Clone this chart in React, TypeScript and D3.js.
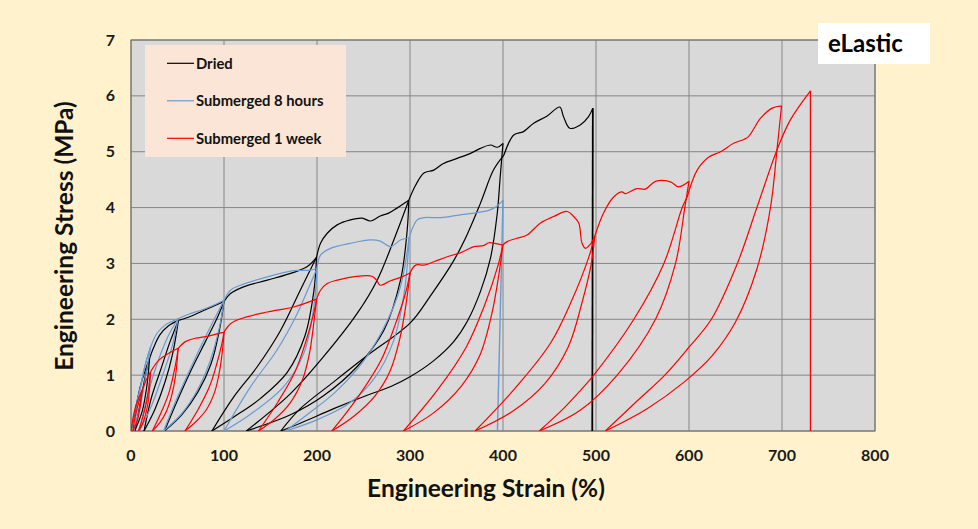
import React from 'react';
import * as d3 from 'd3';

type P = [number, number];
interface Loop { lower: P[]; upper: P[] }

const xTicks = [0, 100, 200, 300, 400, 500, 600, 700, 800];
const yTicks = [0, 1, 2, 3, 4, 5, 6, 7];
const seriesNames = ['Dried', 'Submerged 8 hours', 'Submerged 1 week'];
const seriesColors = ['#000000', '#6A9AD0', '#FF0000'];

// ---------- Dried ----------
const driedEnvelope: P[][] = [
  [[0, 0], [5, 0.4], [10, 0.8], [15.6, 1.1], [20, 1.3]],
  [[20, 1.3], [24, 1.48], [31, 1.72], [40, 1.88], [51, 1.98]],
  [[51, 1.98], [65, 2.06], [80, 2.17], [100, 2.32]],
  [[100, 2.32], [107, 2.46], [121, 2.58], [146.5, 2.7], [175, 2.84], [190, 2.95], [199.5, 3.11]],
  [[199.5, 3.11], [203.8, 3.36], [211, 3.54], [221.7, 3.69], [236, 3.78], [248.6, 3.81], [257.5, 3.76], [268, 3.85], [277, 3.9], [286, 3.99], [298.7, 4.13]],
  [[298.7, 4.13], [306, 4.4], [315, 4.62], [325.6, 4.67], [336, 4.79], [350.7, 4.88], [365, 4.97], [375.8, 5.06], [386.6, 5.12], [393.7, 5.08], [400, 5.15]],
  [[401, 4.94], [411.6, 5.3], [422, 5.36], [433, 5.51], [447.5, 5.64], [461, 5.8], [465, 5.63], [471.8, 5.42], [483, 5.48], [492, 5.63], [496.6, 5.78]],
];
const driedLoops: Loop[] = [
  { lower: [[4, 0], [12, 0.35], [17, 0.8], [20, 1.3]], upper: [[4, 0], [10, 0.5], [15, 0.95], [20, 1.3]] },
  { lower: [[14, 0], [26, 0.4], [37, 0.9], [45, 1.4], [51, 1.98]], upper: [[14, 0], [22, 0.6], [32, 1.1], [42, 1.6], [51, 1.98]] },
  { lower: [[36, 0], [55, 0.3], [72, 0.7], [86, 1.2], [95, 1.8], [100, 2.32]], upper: [[36, 0], [50, 0.55], [65, 1.1], [80, 1.6], [92, 2.0], [100, 2.32]] },
  { lower: [[87, 0], [110.5, 0.25], [139, 0.58], [168, 1.05], [187, 1.7], [196.6, 2.5], [199.5, 3.11]], upper: [[87, 0], [110.5, 0.61], [135.7, 1.15], [160.8, 1.8], [182, 2.52], [199.5, 3.11]] },
  { lower: [[124, 0], [171.5, 0.29], [207, 0.63], [243, 1.15], [271.8, 1.8], [289.8, 2.7], [297, 3.6], [298.7, 4.13]], upper: [[124, 0], [171.5, 0.67], [207, 1.33], [243, 2.1], [264.7, 2.7], [282.6, 3.42], [298.7, 4.13]] },
  { lower: [[161, 0], [182, 0.14], [218, 0.4], [254, 0.64], [280, 0.8], [300, 0.97], [325.6, 1.26], [347, 1.6], [361.5, 1.96], [375.8, 2.5], [386.6, 3.1], [393.7, 3.88], [397, 4.55], [400, 5.15]], upper: [[161, 0], [182, 0.4], [218, 0.88], [254, 1.35], [300, 1.93], [322, 2.42], [347, 3.05], [361.5, 3.52], [375.8, 4.08], [390, 4.68], [401, 4.94]] },
];
const driedBreak: P[] = [[496.6, 5.78], [496, 0]];

// ---------- Submerged 8 hours ----------
const hoursEnvelope: P[][] = [
  [[0, 0], [5, 0.42], [10, 0.78], [15.6, 1.2], [21, 1.5]],
  [[21, 1.5], [28, 1.75], [37, 1.9], [50.7, 2.01]],
  [[50.7, 2.01], [62, 2.09], [76.5, 2.17], [90, 2.26], [100, 2.34]],
  [[100, 2.34], [107, 2.52], [117.7, 2.61], [146.5, 2.76], [175, 2.87], [193, 2.88], [200, 2.91]],
  [[200, 2.91], [203.8, 3.15], [214.5, 3.27], [236, 3.36], [257.5, 3.42], [268, 3.4], [279, 3.3], [289.8, 3.42], [299, 3.46]],
  [[299, 3.46], [307.7, 3.78], [315, 3.82], [333, 3.82], [354, 3.87], [375.8, 3.92], [384.6, 3.95], [392, 4.01], [400, 4.13]],
];
const hoursLoops: Loop[] = [
  { lower: [[3, 0], [10, 0.45], [16, 1.0], [21, 1.5]], upper: [[3, 0], [8, 0.55], [14, 1.1], [21, 1.5]] },
  { lower: [[9, 0], [22, 0.45], [34, 1.0], [44, 1.5], [50.7, 2.01]], upper: [[9, 0], [18, 0.65], [28, 1.2], [40, 1.7], [50.7, 2.01]] },
  { lower: [[35, 0], [54, 0.3], [71, 0.72], [85, 1.25], [95, 1.85], [100, 2.34]], upper: [[35, 0], [49, 0.57], [64, 1.12], [79, 1.65], [91, 2.05], [100, 2.34]] },
  { lower: [[100, 0], [128.5, 0.3], [164, 0.79], [185.8, 1.39], [196.6, 2.22], [200, 2.91]], upper: [[100, 0], [128.5, 0.79], [157, 1.45], [178.7, 2.1], [193, 2.64], [200, 2.91]] },
  { lower: [[166, 0], [200, 0.2], [235, 0.5], [262, 0.95], [282, 1.6], [294, 2.5], [299, 3.46]], upper: [[166, 0], [190, 0.3], [220, 0.7], [250, 1.25], [275, 1.95], [290, 2.6], [299, 3.46]] },
];
const hoursBreak: P[] = [[400, 4.13], [394, 0]];

// ---------- Submerged 1 week ----------
const weekEnvelope: P[][] = [
  [[0, 0], [4.8, 0.43], [12, 0.73]],
  [[12, 0.73], [16, 0.9], [21, 1.06]],
  [[21, 1.06], [30, 1.27], [40.6, 1.39], [50.7, 1.48]],
  [[50.7, 1.48], [58.6, 1.6], [69, 1.66], [83.5, 1.7], [100, 1.77]],
  [[100, 1.77], [107, 1.92], [117.7, 2.01], [146.5, 2.13], [175, 2.22], [199.5, 2.36]],
  [[199.5, 2.36], [203.8, 2.52], [211, 2.64], [221.7, 2.7], [238.7, 2.76], [259, 2.77], [264, 2.7], [268, 2.61], [279, 2.69], [289.8, 2.75], [300, 2.83]],
  [[300, 2.83], [306, 2.97], [315, 2.97], [325.6, 3.03], [340, 3.12], [354, 3.19], [368.6, 3.3], [379, 3.32], [384.7, 3.37], [393.7, 3.35], [399.8, 3.33]],
  [[399.8, 3.33], [404.5, 3.39], [415, 3.45], [426, 3.51], [440, 3.72], [454.6, 3.84], [469, 3.93], [476, 3.84], [481.5, 3.72], [485, 3.36], [488.7, 3.27], [493.8, 3.34], [498.7, 3.49]],
  [[498.7, 3.49], [508, 3.9], [519, 4.19], [528, 4.28], [531.5, 4.25], [544, 4.34], [553, 4.33], [564, 4.47], [580, 4.46], [589, 4.37], [600, 4.47]],
  [[598, 4.19], [608.8, 4.67], [621, 4.9], [634, 5.0], [648, 5.15], [659, 5.22], [664, 5.27], [677, 5.6], [689.5, 5.78], [699.5, 5.82]],
];
const weekLoops: Loop[] = [
  { lower: [[2, 0], [7, 0.2], [10, 0.45], [12, 0.73]], upper: [[2, 0], [5, 0.3], [9, 0.55], [12, 0.73]] },
  { lower: [[8, 0], [12.4, 0.13], [18.1, 0.48], [19.6, 0.71], [21, 1.06]], upper: [[8, 0], [12.4, 0.23], [16.2, 0.48], [18.5, 0.71], [21, 1.06]] },
  { lower: [[23, 0], [31, 0.15], [38, 0.35], [44, 0.65], [48, 1.0], [50.7, 1.48]], upper: [[23, 0], [32.4, 0.33], [40.5, 0.67], [45.4, 0.99], [49.3, 1.32], [50.7, 1.48]] },
  { lower: [[58, 0], [70, 0.17], [81, 0.38], [90, 0.7], [95.5, 1.1], [98.7, 1.5], [100, 1.77]], upper: [[58, 0], [72.3, 0.39], [84.5, 0.8], [92, 1.19], [98, 1.58], [100, 1.77]] },
  { lower: [[137, 0], [155, 0.22], [171, 0.5], [184, 0.9], [192, 1.4], [197, 2.0], [199.5, 2.36]], upper: [[137, 0], [158, 0.52], [176.4, 1.06], [187.6, 1.58], [196.4, 2.1], [199.5, 2.36]] },
  { lower: [[216, 0], [240, 0.27], [262, 0.62], [278, 1.05], [289, 1.65], [296, 2.3], [300, 2.83]], upper: [[216, 0], [244.6, 0.62], [269, 1.27], [284, 1.9], [296, 2.52], [300, 2.83]] },
  { lower: [[293, 0], [325, 0.32], [355, 0.8], [375, 1.35], [388, 2.1], [396, 2.85], [399.8, 3.33]], upper: [[293, 0], [329.4, 0.73], [360.4, 1.5], [379.7, 2.23], [394.6, 2.96], [399.8, 3.33]] },
  { lower: [[370, 0], [410, 0.35], [445, 0.85], [470, 1.5], [485, 2.3], [495, 3.0], [498.7, 3.49]], upper: [[370, 0], [413.8, 0.78], [451, 1.57], [474, 2.34], [492, 3.1], [498.7, 3.49]] },
  { lower: [[439, 0], [483, 0.37], [522.8, 1], [564, 2], [585.5, 3], [595.5, 4], [600, 4.47]], upper: [[439, 0], [465, 0.4], [483, 0.72], [497.6, 1.0], [540.7, 2], [573, 3], [592.7, 4], [598, 4.19]] },
  { lower: [[510, 0], [555, 0.4], [595, 0.88], [625, 1.35], [650, 1.95], [673, 2.9], [687.6, 4], [695, 5.1], [699.5, 5.82]], upper: [[510, 0], [545, 0.55], [574, 1], [600, 1.5], [624, 2], [652, 3], [673, 4], [695, 5.05], [709, 5.57], [730.6, 6.09]] },
];
const weekBreak: P[] = [[730.6, 6.09], [730.6, 0]];

const W = 978;
const H = 529;
const FONT = 'Lato, "Open Sans", sans-serif';

export default function App() {
  const x = d3.scaleLinear().domain([0, 800]).range([131, 875]);
  const y = d3.scaleLinear().domain([0, 7]).range([431, 40]);
  const smooth = d3.line<P>().x(d => x(d[0])).y(d => y(d[1])).curve(d3.curveCatmullRom.alpha(0.5));
  const straight = d3.line<P>().x(d => x(d[0])).y(d => y(d[1]));

  const series = [
    { env: driedEnvelope, loops: driedLoops, brk: driedBreak, color: seriesColors[0], bw: 1.8 },
    { env: hoursEnvelope, loops: hoursLoops, brk: hoursBreak, color: seriesColors[1], bw: 1.4 },
    { env: weekEnvelope, loops: weekLoops, brk: weekBreak, color: seriesColors[2], bw: 1.3 },
  ];

  const [x0, x1] = x.range();
  const [y0, y1] = y.range();

  return (
    <div style={{ position: 'absolute', left: 0, top: 0, width: W, height: H }}>
      <svg width={W} height={H} style={{ display: 'block' }}>
        <defs>
          <clipPath id="plotclip">
            <rect x={x0} y={y1 - 2} width={x1 - x0} height={y0 - y1 + 2} />
          </clipPath>
        </defs>
        <rect x={0} y={0} width={W} height={H} fill="#FFF2CC" />
        <rect x={x0} y={y1} width={x1 - x0} height={y0 - y1} fill="#D9D9D9" />
        {xTicks.map(t => (
          <line key={'gx' + t} x1={x(t)} x2={x(t)} y1={y1} y2={y0} stroke="#868686" strokeWidth={1} />
        ))}
        {yTicks.map(t => (
          <line key={'gy' + t} x1={x0} x2={x1} y1={y(t)} y2={y(t)} stroke="#868686" strokeWidth={1} />
        ))}
        <rect x={x0} y={y1} width={x1 - x0} height={y0 - y1} fill="none" stroke="#6E6E6E" strokeWidth={1} />
        <g clipPath="url(#plotclip)" fill="none" strokeLinejoin="round">
          {series.map((s, si) => (
            <g key={si} stroke={s.color} strokeWidth={1.2}>
              {s.env.map((seg, i) => <path key={'e' + i} d={smooth(seg) || ''} />)}
              {s.loops.map((lp, i) => (
                <g key={'l' + i}>
                  <path d={smooth(lp.lower) || ''} />
                  <path d={smooth(lp.upper) || ''} />
                </g>
              ))}
              <path d={straight(s.brk) || ''} strokeWidth={s.bw} />
            </g>
          ))}
        </g>
        {xTicks.map(t => (
          <text key={'tx' + t} x={x(t)} y={460.5} textAnchor="middle" fontFamily={FONT} fontWeight={700} fontSize={16} fill="#1a1a1a">{t}</text>
        ))}
        {yTicks.map(t => (
          <text key={'ty' + t} x={115} y={y(t) + 5.5} textAnchor="end" fontFamily={FONT} fontWeight={700} fontSize={16} fill="#1a1a1a">{t}</text>
        ))}
        <text x={486} y={497} textAnchor="middle" fontFamily={FONT} fontWeight={700} fontSize={24.5} fill="#111">Engineering Strain (%)</text>
        <text transform={`translate(73, 236) rotate(-90)`} textAnchor="middle" fontFamily={FONT} fontWeight={700} fontSize={24.5} fill="#111">Engineering Stress (MPa)</text>
        <rect x={145} y={45} width={201} height={112} fill="#FBE5D6" />
        {seriesNames.map((n, i) => (
          <g key={n}>
            <line x1={167} x2={194} y1={63.3 + i * 37.5} y2={63.3 + i * 37.5} stroke={seriesColors[i]} strokeWidth={1.2} />
            <text x={196} y={68.5 + i * 37.5} fontFamily={FONT} fontWeight={700} fontSize={14.8} fill="#111">{n}</text>
          </g>
        ))}
        <rect x={818} y={23} width={112} height={41} fill="#FFFFFF" />
        <text x={828} y={52} fontFamily={FONT} fontWeight={700} fontSize={24} fill="#000">eLastic</text>
      </svg>
    </div>
  );
}
